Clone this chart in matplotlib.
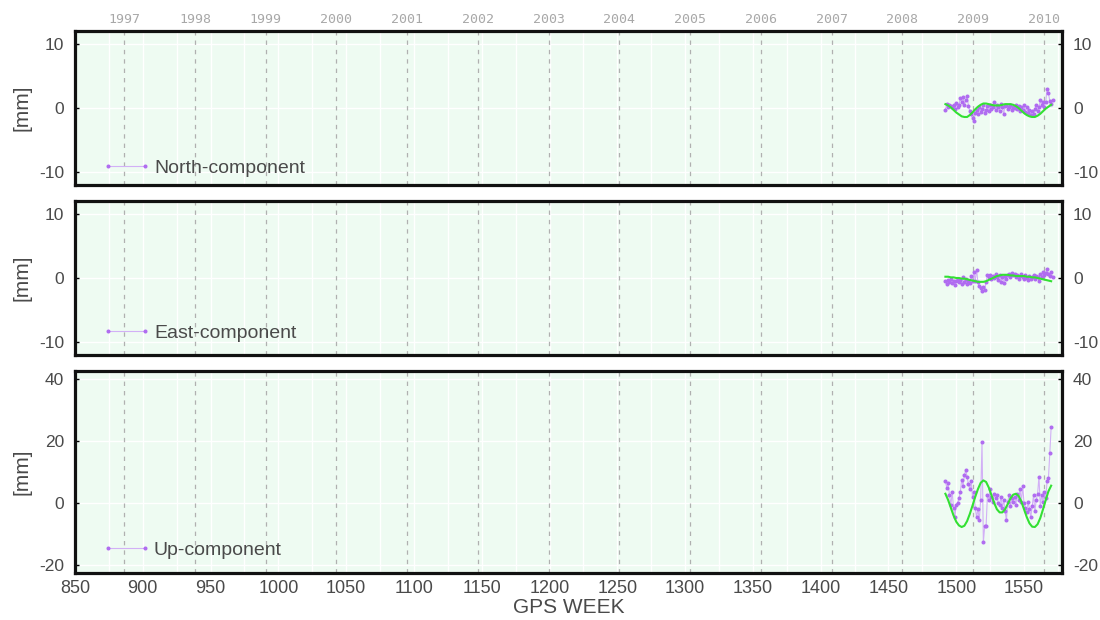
import datetime as dt
import numpy as np
import matplotlib
matplotlib.use("Agg")
import matplotlib.pyplot as plt

plt.rcParams['font.family'] = ['Liberation Sans', 'DejaVu Sans']

# ---------------- data ----------------
years = list(range(1997, 2011))
x_ticks = list(range(850, 1600, 50))

weeks_n = list(range(1492, 1572))
north = [-0.3, 0.6, 0.2, 0.5, 0.3, 0.1, 0.4, -0.2, 0.8, 0.2,
         0.5, 1.5, 0.9, 1.7, 0.4, 1.2, 1.9, 0.3, -0.5, -0.9,
         -1.6, -2.1, -0.8, -0.3, -1.0, 0.2, -0.6, -0.2, 0.4, -0.8,
         -0.3, 0.3, -0.5, 0.5, -0.2, 0.1, 0.9, -0.3, 0.4, 0.2,
         -0.4, 0.6, 0.1, -0.9, 0.3, 0.5, -0.1, 0.2, 0.4, -0.3,
         0.2, 0.0, 0.5, -0.2, 0.3, -0.5, 0.1, -0.3, 0.4, -0.6,
         0.2, -0.8, -0.3, -1.1, -0.4, -0.9, -0.2, 0.5, -0.5, 0.1,
         1.2, 0.4, 0.9, 0.2, 1.0, 3.0, 2.3, 1.1, 0.6, 1.2]

weeks_e = list(range(1492, 1572))
east = [-0.4, -1.0, -0.3, -0.6, -0.2, -0.8, -0.4, -1.1, -0.5, -0.2,
        -0.7, -0.3, -0.9, 0.1, -0.6, -0.2, -1.0, -0.4, -0.8, 0.3,
        -0.5, 0.9, -0.4, 1.3, -0.7, -1.2, -1.6, -2.0, -1.4, -1.8,
        -0.6, 0.4, 0.1, 0.5, -0.2, 0.3, 0.0, 0.6, 0.2, -0.3,
        0.4, -0.6, 0.2, -0.8, 0.3, -0.2, 0.5, 0.7, 0.2, 0.8,
        0.4, 0.6, 0.1, 0.5, -0.1, 0.3, 0.6, 0.2, -0.2, 0.4,
        0.0, -0.3, 0.3, -0.1, 0.2, 0.5, -0.2, 0.3, 0.1, -0.4,
        0.6, 0.2, 1.0, 0.4, 0.8, 1.4, 0.6, 0.3, 0.9, 0.2]

weeks_u = list(range(1492, 1571))
up = [7.0, 5.0, 6.5, 2.5, -0.5, 3.5, -1.5, -4.5, -0.5, 0.0,
      1.5, 3.5, 7.5, 5.5, 9.0, 10.5, 8.5, 6.0, 4.5, 7.0,
      2.0, 3.5, -1.5, -4.5, -2.0, -5.5, 1.0, 19.5, -12.5, -7.5,
      -7.5, 2.5, 1.0, 4.5, 2.0, 0.5, 3.0, 1.5, 2.5, 0.0,
      -0.5, 2.0, -1.5, 1.0, -2.5, -5.5, 0.5, 2.5, -1.0, 1.5,
      0.5, 2.0, -0.5, 3.0, 1.0, 4.5, 0.5, 5.5, 0.0, -1.5,
      -3.0, 0.5, -2.0, -4.5, -1.0, 2.5, -2.5, 1.0, 3.0, 8.5,
      -1.0, 2.5, 0.5, 3.5, 1.5, 7.0, 8.0, 16.0, 24.5]

fit_weeks = list(range(1492, 1572, 2))
north_fit = [0.6, 0.4, 0.1, -0.3, -0.7, -1.0, -1.3, -1.4, -1.4, -1.1,
             -0.7, -0.2, 0.2, 0.5, 0.7, 0.7, 0.6, 0.5, 0.4, 0.4,
             0.4, 0.5, 0.6, 0.6, 0.6, 0.5, 0.3, 0.0, -0.4, -0.8,
             -1.1, -1.3, -1.4, -1.4, -1.2, -0.9, -0.5, -0.1, 0.2, 0.5]
east_fit = [0.2, 0.2, 0.1, 0.1, 0.0, 0.0, -0.1, -0.1, -0.2, -0.3,
            -0.4, -0.5, -0.6, -0.6, -0.6, -0.5, -0.3, -0.1, 0.1, 0.3,
            0.4, 0.5, 0.5, 0.5, 0.4, 0.4, 0.3, 0.3, 0.3, 0.3,
            0.2, 0.2, 0.1, 0.1, 0.0, -0.1, -0.2, -0.3, -0.4, -0.5]
up_fit = [3.0, 1.0, -1.5, -4.0, -6.0, -7.2, -7.7, -7.3, -5.8, -3.5,
          -0.8, 2.0, 4.5, 6.5, 7.3, 6.8, 5.0, 2.5, 0.0, -2.0,
          -3.0, -3.0, -2.0, -0.3, 1.5, 2.7, 3.0, 2.3, 0.5, -2.0,
          -4.5, -6.5, -7.6, -7.7, -6.8, -4.8, -2.0, 1.0, 3.8, 5.6]

panels = [
    ("North-component", weeks_n, north, north_fit, (-12, 12), [-10, 0, 10]),
    ("East-component", weeks_e, east, east_fit, (-12, 12), [-10, 0, 10]),
    ("Up-component", weeks_u, up, up_fit, (-22.5, 42.5), [-20, 0, 20, 40]),
]

# GPS week of each Jan 1
gps0 = dt.date(1980, 1, 6)
year_weeks = [(dt.date(y, 1, 1) - gps0).days / 7.0 for y in years]

# ---------------- style ----------------
BG = "#eefbf2"
PURPLE = "#b06cf0"
PURPLE_LINE = "#d2b0f6"
GREEN = "#33e033"
TXT = "#4a4a4a"

fig = plt.figure(figsize=(11, 6.2), dpi=100)
W, H = 1100, 620
left, right = 75, 1062
boxes = [(31, 185), (201, 355), (371, 573)]
legend_y = [-0.062, -0.029, -0.017]

axes = []
for i, ((label, wk, vals, fit, ylim, yt), (top, bot)) in enumerate(zip(panels, boxes)):
    ax = fig.add_axes([left / W, 1 - bot / H, (right - left) / W, (bot - top) / H])
    axes.append(ax)
    ax.set_facecolor(BG)
    ax.set_xlim(850, 1578)
    ax.set_ylim(*ylim)

    # white minor grid every 25 weeks
    for xv in range(850, 1580, 25):
        ax.axvline(xv, color="white", lw=1.0, zorder=1)
    for yv in yt:
        ax.axhline(yv, color="white", lw=1.0, zorder=1)
    # year boundaries
    for yw in year_weeks:
        ax.axvline(yw, color="#b0b0b0", lw=0.9, ls=(0, (3.5, 4)), zorder=1.5)

    ax.plot(wk, vals, color=PURPLE_LINE, lw=0.8, marker="o", ms=1.9,
            mfc=PURPLE, mec=PURPLE, zorder=3, label=label)
    ax.plot(fit_weeks, fit, color=GREEN, lw=1.5, zorder=4)

    for s in ax.spines.values():
        s.set_color("#111111")
        s.set_linewidth(2.3)

    ax.set_yticks(yt)
    ax.set_yticklabels([str(v) for v in yt])
    ax.tick_params(axis="y", which="both", left=True, right=True, labelleft=True,
                   labelright=True, length=3, width=1, colors="black",
                   labelcolor=TXT, labelsize=12.5, direction="in", pad=8)
    ax.set_xticks(x_ticks)
    if i == 2:
        ax.set_xticklabels([str(v) for v in x_ticks])
        ax.tick_params(axis="x", length=0, labelsize=13, labelcolor=TXT, pad=5)
        ax.set_xlabel("GPS WEEK", fontsize=15, color=TXT, labelpad=1)
    else:
        ax.tick_params(axis="x", length=0, labelbottom=False)
    ax.set_ylabel("[mm]", fontsize=15, color=TXT)
    ax.yaxis.set_label_coords(-0.044, 0.5)

    leg = ax.legend(loc="lower left", bbox_to_anchor=(0.01, legend_y[i]), frameon=False,
                    fontsize=14, handlelength=2.5, numpoints=2, handletextpad=0.15)
    for t in leg.get_texts():
        t.set_color(TXT)

# year labels on top
ax0 = axes[0]
for y, yw in zip(years, year_weeks):
    ax0.text(yw, 1.03, str(y), transform=ax0.get_xaxis_transform(), ha="center",
             va="bottom", fontsize=9.5, color="#a8a8a8", family="DejaVu Sans Mono")

fig.savefig("out.png", dpi=100, facecolor="white")
